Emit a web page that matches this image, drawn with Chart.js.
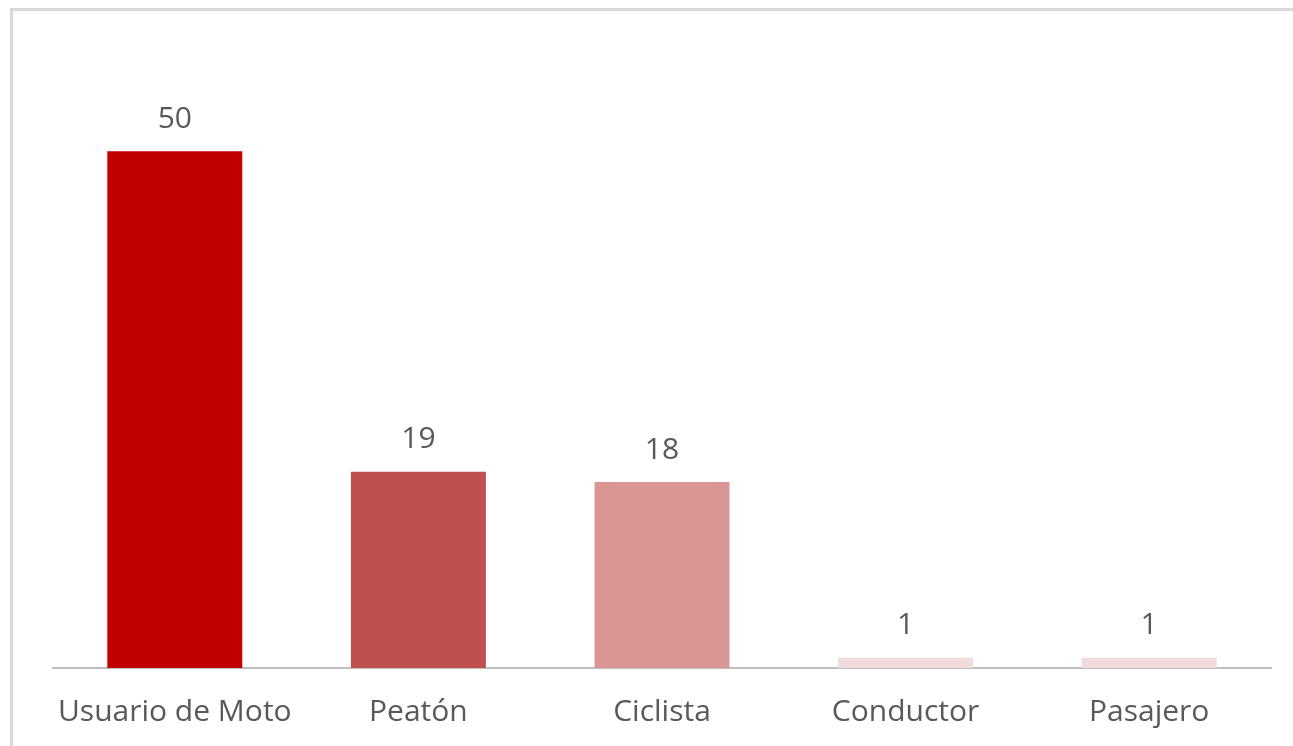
<!DOCTYPE html>
<html>
<head>
<meta charset="utf-8">
<script src="https://cdn.jsdelivr.net/npm/chart.js@4.4.1/dist/chart.umd.min.js"></script>
<style>
  html, body { margin: 0; padding: 0; background: #fff; overflow: hidden; }
  #wrap { position: relative; width: 1293px; height: 746px; }
  #frame {
    position: absolute; left: 10px; top: 8px; right: -10px; bottom: -10px;
    border-top: 3px solid #d9d9d9; border-left: 3px solid #d9d9d9;
    pointer-events: none;
  }
</style>
</head>
<body>
<div id="wrap">
  <canvas id="chart" width="1293" height="746"></canvas>
  <div id="frame"></div>
</div>
<script>
// Data
const categories = ['Usuario de Moto', 'Peatón', 'Ciclista', 'Conductor', 'Pasajero'];
const values = [50, 19, 18, 1, 1];
const barColors = ['#C00000', '#C0504D', '#D99694', '#F2DCDB', '#F2DCDB'];

const FONT = "'Open Sans', 'Noto Sans', sans-serif";
const TEXT_COLOR = '#595959';

// Value labels above each bar (no datalabels plugin offline)
const valueLabels = {
    id: 'valueLabels',
    afterDatasetsDraw(chart) {
        const ctx = chart.ctx;
        const meta = chart.getDatasetMeta(0);
        ctx.save();
        ctx.font = `30px ${FONT}`;
        ctx.fillStyle = TEXT_COLOR;
        ctx.textAlign = 'center';
        ctx.textBaseline = 'middle';
        meta.data.forEach((bar, i) => {
            ctx.fillText(String(values[i]), bar.x, bar.y - 32);
        });
        ctx.restore();
    }
};

const ctx = document.getElementById('chart').getContext('2d');
const chart = new Chart(ctx, {
    type: 'bar',
    data: {
        labels: categories,
        datasets: [{
            data: values,
            backgroundColor: barColors,
            borderWidth: 0,
            categoryPercentage: 1,
            barPercentage: 0.554
        }]
    },
    options: {
        responsive: false,
        animation: false,
        layout: { padding: { left: 53, right: 22, top: 48, bottom: 0 } },
        plugins: {
            legend: { display: false },
            tooltip: { enabled: false }
        },
        scales: {
            x: {
                afterFit(scale) { scale.height = 78; },
                grid: { display: false, drawTicks: false },
                border: { display: true, color: '#bfbfbf', width: 2 },
                ticks: {
                    color: TEXT_COLOR,
                    font: { family: FONT, size: 30 },
                    padding: 26,
                    maxRotation: 0
                }
            },
            y: {
                display: false,
                min: 0,
                max: 60
            }
        }
    },
    plugins: [valueLabels]
});
</script>
</body>
</html>
